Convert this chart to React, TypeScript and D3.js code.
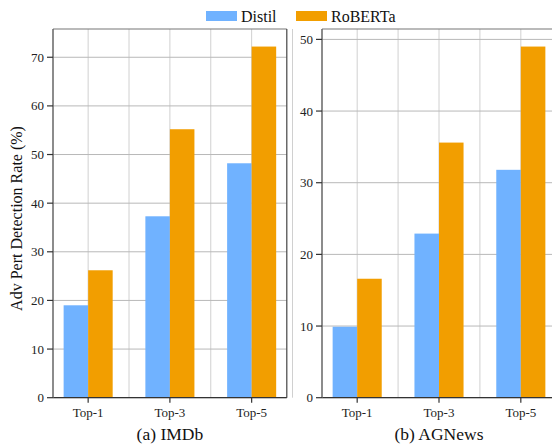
import * as d3 from 'd3'

const categories = ['Top-1', 'Top-3', 'Top-5']
const seriesNames = ['Distil', 'RoBERTa']
const imdbDistil = [19.0, 37.3, 48.2]
const imdbRoberta = [26.2, 55.2, 72.2]
const agnewsDistil = [9.9, 22.9, 31.8]
const agnewsRoberta = [16.6, 35.6, 49.0]
const imdbTicks = [0, 10, 20, 30, 40, 50, 60, 70]
const agnewsTicks = [0, 10, 20, 30, 40, 50]

const COLORS = ['#70b2ff', '#f29e00']
const FONT = '"Liberation Serif", "DejaVu Serif", serif'
const WIDTH = 552
const HEIGHT = 446
const TOP = 29
const BOTTOM = 397.7

type PanelProps = {
  left: number
  right: number
  distil: number[]
  roberta: number[]
  ticks: number[]
  caption: string
  showRight: boolean
}

function Panel({ left, right, distil, roberta, ticks, caption, showRight }: PanelProps) {
  const maxVal = d3.max([...distil, ...roberta]) as number
  const y = d3.scaleLinear().domain([0, maxVal * 1.05]).range([BOTTOM, TOP])
  // positions 0..n-1, bars of width 0.3 each side, 5% margin like matplotlib
  const x = d3.scaleLinear().domain([-0.43, categories.length - 1 + 0.43]).range([left, right])
  const bw = x(0.3) - x(0)
  const halfs = d3.range(0, categories.length - 0.5 + 0.01, 0.5)

  return (
    <g>
      {/* vertical grid */}
      {halfs.map(h => (
        <line key={'v' + h} x1={x(h)} x2={x(h)} y1={TOP} y2={BOTTOM} stroke="#d0d0d0" strokeWidth={1} />
      ))}
      {/* horizontal grid */}
      {ticks.map(t => (
        <line key={'h' + t} x1={left} x2={right} y1={y(t)} y2={y(t)} stroke="#b8b8b8" strokeWidth={1} />
      ))}

      {/* bars */}
      {categories.map((c, i) => (
        <g key={c}>
          <rect x={x(i - 0.3)} y={y(distil[i])} width={bw} height={y(0) - y(distil[i])} fill={COLORS[0]} />
          <rect x={x(i)} y={y(roberta[i])} width={bw} height={y(0) - y(roberta[i])} fill={COLORS[1]} />
        </g>
      ))}

      {/* spines */}
      <line x1={left} x2={right} y1={TOP} y2={TOP} stroke="#777" strokeWidth={1.2} />
      {showRight && <line x1={right} x2={right} y1={TOP} y2={BOTTOM} stroke="#444" strokeWidth={1.2} />}
      <line x1={left} x2={right} y1={BOTTOM} y2={BOTTOM} stroke="#333" strokeWidth={1.2} />
      <line x1={left} x2={left} y1={TOP} y2={BOTTOM} stroke="#666" strokeWidth={1.5} />

      {/* y axis ticks */}
      {ticks.map(t => (
        <g key={'yt' + t} transform={`translate(${left}, ${y(t)})`}>
          <line x1={-6} x2={0} stroke="#333" strokeWidth={1.2} />
          <text x={-9} dy="0.35em" textAnchor="end" fontSize={13} fill="#222" fontFamily={FONT}>{t}</text>
        </g>
      ))}

      {/* x axis ticks */}
      {categories.map((c, i) => (
        <g key={'xt' + c} transform={`translate(${x(i)}, ${BOTTOM})`}>
          <line y1={0} y2={5} stroke="#333" strokeWidth={1.2} />
          <text y={19.5} textAnchor="middle" fontSize={13} fill="#222" fontFamily={FONT}>{c}</text>
        </g>
      ))}

      <text x={x(1)} y={440} textAnchor="middle" fontSize={17.5} fill="#111" fontFamily={FONT}>{caption}</text>
    </g>
  )
}

export default function App() {
  return (
    <svg width={WIDTH} height={HEIGHT} style={{ position: 'absolute', left: 0, top: 0, background: '#fff' }}>
      <rect width={WIDTH} height={HEIGHT} fill="#fff" />

      {/* legend */}
      {seriesNames.map((s, i) => (
        <g key={s} transform={`translate(${206 + i * 90}, 11)`}>
          <rect width={31} height={10} fill={COLORS[i]} />
          <text x={35} y={10.5} fontSize={16} fill="#111" fontFamily={FONT}>{s}</text>
        </g>
      ))}

      <text
        transform={`translate(22, 218.5) rotate(-90)`}
        textAnchor="middle"
        fontSize={16}
        fill="#111"
        fontFamily={FONT}
      >
        Adv Pert Detection Rate (%)
      </text>

      <Panel left={53} right={286.8} distil={imdbDistil} roberta={imdbRoberta} ticks={imdbTicks} caption="(a) IMDb" showRight />
      <Panel left={322} right={556} distil={agnewsDistil} roberta={agnewsRoberta} ticks={agnewsTicks} caption="(b) AGNews" showRight={false} />
    </svg>
  )
}
